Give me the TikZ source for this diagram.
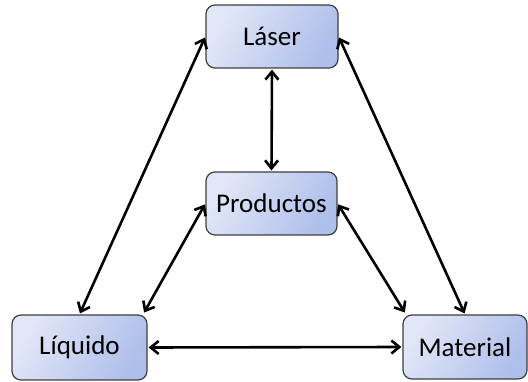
\documentclass[tikz,border=0pt]{standalone}
\usepackage{fontspec}
\setmainfont{Carlito}
\usetikzlibrary{arrows.meta}
\definecolor{boxL}{HTML}{E2E7F8}
\definecolor{boxR}{HTML}{AFBFEB}
\definecolor{boxB}{HTML}{3F3F3F}
\begin{document}
\begin{tikzpicture}[x=1pt,y=1pt,
  box/.style={draw=boxB, line width=1.2pt, rounded corners=9pt, shading=axis, left color=boxL, right color=boxR, shading angle=60,
    minimum height=63pt, inner sep=0pt, font=\fontsize{27}{32}\selectfont, text=black},
  conn/.style={line width=2.6pt, {Straight Barb[length=8pt,width=13pt]}-{Straight Barb[length=8pt,width=13pt]}, shorten >=1pt, shorten <=1pt}]
\useasboundingbox (0,0) rectangle (528,-382);
\node[box, minimum width=132pt] (laser) at (272,-36.5) {Láser};
\node[box, minimum width=131pt] (prod) at (271.5,-203.5) {Productos};
\node[box, minimum width=135pt, minimum height=65pt] (liq) at (79.5,-347.5) {Líquido};
\node[box, minimum width=124pt, minimum height=64pt] (mat) at (465,-347) {Material};
\draw[conn] (laser.south) -- (prod.north);
\draw[conn] (laser.west) -- (liq.north);
\draw[conn] (laser.east) -- (mat.north);
\draw[conn] (prod.west) -- ([xshift=-4pt,yshift=1pt]liq.north east);
\draw[conn] (prod.east) -- ([xshift=3pt,yshift=1pt]mat.north west);
\draw[conn] (liq.east) -- (mat.west);
\end{tikzpicture}
\end{document}
